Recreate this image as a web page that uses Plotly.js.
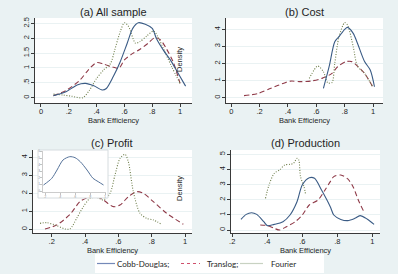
<!DOCTYPE html>
<html>
<head>
<meta charset="utf-8">
<script src="https://cdn.plot.ly/plotly-3.0.1.min.js"></script>
<style>
  html, body { margin: 0; padding: 0; background: #EAF2F3; }
  #chart { width: 398px; height: 274px; }
</style>
</head>
<body>
<div id="chart"></div>
<script>
// ---- Kernel density estimates of bank efficiency ----
// (a) All sample
const allCobbX  = [0.09,0.18,0.26,0.32,0.38,0.44,0.47,0.52,0.57,0.62,0.66,0.70,0.75,0.80,0.83,0.88,0.93,0.98,1.04];
const allCobbY  = [0.07,0.20,0.43,0.48,0.40,0.26,0.31,0.71,1.21,1.83,2.33,2.52,2.47,2.33,1.99,1.60,1.27,0.87,0.39];
const allTransX = [0.09,0.18,0.28,0.34,0.40,0.45,0.51,0.56,0.60,0.66,0.71,0.77,0.82,0.86,0.90,0.95,1.00];
const allTransY = [0.07,0.24,0.59,0.93,1.18,1.13,1.04,0.99,1.27,1.49,1.62,1.83,2.02,1.94,1.66,1.21,0.48];
const allFourX  = [0.09,0.16,0.22,0.30,0.35,0.40,0.45,0.50,0.53,0.57,0.60,0.63,0.68,0.71,0.76,0.81,0.84,0.89,0.94,1.00];
const allFourY  = [0.12,0.09,0.05,0.00,0.26,0.65,0.93,1.15,1.60,2.22,2.52,2.39,1.83,1.88,2.07,2.24,2.05,1.55,1.04,0.48];

// (b) Cost
const costCobbX  = [0.65,0.69,0.73,0.76,0.80,0.82,0.86,0.89,0.94,0.98,1.01];
const costCobbY  = [0.55,1.81,3.27,3.57,4.00,4.11,3.76,3.18,2.11,1.62,0.64];
const costTransX = [0.09,0.19,0.28,0.38,0.42,0.49,0.56,0.64,0.71,0.75,0.81,0.85,0.89,0.94,1.00];
const costTransY = [0.12,0.25,0.55,0.88,0.97,0.94,0.97,1.13,1.42,1.81,2.11,2.11,1.85,1.42,0.60];
const costFourX  = [0.55,0.61,0.65,0.68,0.71,0.73,0.76,0.80,0.82,0.86,0.89,0.94,1.00];
const costFourY  = [1.13,1.85,1.52,0.88,0.88,2.01,3.57,4.39,4.25,2.98,1.85,1.42,0.60];

// (c) Profit (Cobb-Douglas shown in the small inset)
const profCobbX  = [0.18,0.29,0.36,0.44,0.53,0.60,0.67,0.76,0.84,0.91,0.98];
const profCobbY  = [0.91,1.92,3.18,4.70,5.20,5.05,4.44,3.18,1.92,1.41,0.91];
const profTransX = [0.16,0.23,0.31,0.37,0.42,0.47,0.51,0.57,0.61,0.66,0.71,0.75,0.81,0.89,0.99];
const profTransY = [0.02,0.24,0.83,1.54,1.78,1.81,1.63,1.26,1.35,1.81,2.09,2.00,1.54,0.89,0.28];
const profFourX  = [0.13,0.17,0.22,0.28,0.31,0.35,0.39,0.43,0.47,0.51,0.55,0.58,0.61,0.64,0.66,0.69,0.73,0.77,0.81,0.86];
const profFourY  = [0.33,0.37,0.24,0.02,0.02,0.61,1.26,1.72,1.78,1.63,2.00,3.02,3.94,4.17,3.76,2.09,0.89,0.61,0.52,0.28];

// (d) Production
const prodCobbX  = [0.25,0.28,0.31,0.34,0.38,0.40,0.44,0.49,0.53,0.57,0.60,0.64,0.67,0.71,0.76,0.78,0.82,0.86,0.90,0.93,0.97,1.01];
const prodCobbY  = [0.70,1.03,1.14,1.03,0.55,0.29,0.37,0.55,0.99,1.87,2.97,3.45,3.41,2.64,1.54,0.99,0.70,0.62,0.77,0.95,0.73,0.37];
const prodTransX = [0.36,0.40,0.44,0.47,0.51,0.56,0.60,0.64,0.69,0.73,0.76,0.78,0.82,0.86,0.89,0.92,0.95];
const prodTransY = [0.33,0.29,0.11,0.00,0.22,0.55,0.99,1.65,1.98,2.64,3.19,3.52,3.63,3.37,2.86,1.98,1.25];
const prodFourX  = [0.39,0.41,0.44,0.47,0.50,0.53,0.55,0.57,0.58,0.59,0.61,0.62];
const prodFourY  = [2.09,2.97,3.74,3.96,4.29,4.33,4.40,4.73,4.62,3.52,2.86,2.31];

// ---- Tick labels ----
const effTicks    = [0, 0.2, 0.4, 0.6, 0.8, 1];
const effLabels   = ['0', '.2', '.4', '.6', '.8', '1'];
const effTicks2   = [0.2, 0.4, 0.6, 0.8, 1];
const effLabels2  = ['.2', '.4', '.6', '.8', '1'];
const densTicksA  = [0, 0.5, 1, 1.5, 2, 2.5];
const densLabelsA = ['0', '.5', '1', '1.5', '2', '2.5'];
const densTicks4  = [0, 1, 2, 3, 4];
const densLabels4 = ['0', '1', '2', '3', '4'];
const densTicks5  = [0, 1, 2, 3, 4, 5];
const densLabels5 = ['0', '1', '2', '3', '4', '5'];
const insetXTicks = [0.2, 0.4, 0.6, 0.8, 1];
const insetXLabels = ['.2', '.4', '.6', '.8', '1'];
const insetYTicks = [0, 1, 2, 3, 4, 5, 6];
const insetYLabels = ['0', '1', '2', '3', '4', '5', '6'];

const panelTitles = ['(a) All sample', '(b) Cost', '(c) Profit', '(d) Production'];
const seriesNames = ['Cobb-Douglas;', 'Translog;', 'Fourier'];

// ---- Layout geometry (pixels) ----
const W = 398, H = 274;
const fx = v => v / W;
const fy = v => 1 - v / H;

const boxA = { x: [35, 192],  y: [18, 103],  xr: [-0.043, 1.086], yr: [-0.178, 2.678] };
const boxB = { x: [226, 383], y: [18, 103],  xr: [-0.037, 1.070], yr: [-0.31, 4.66] };
const boxC = { x: [33, 192],  y: [150, 233], xr: [0.088, 1.042],  yr: [-0.206, 4.41] };
const boxD = { x: [231, 380], y: [150, 233], xr: [0.193, 1.044],  yr: [-0.198, 5.28] };
const frameBox = { x: [38, 108], y: [150, 198] };
const insetBox = { x: [43, 106], y: [151, 192], xr: [0.173, 1.013], yr: [-0.15, 6.06] };

const axisColor = '#3a3a3a';
const textColor = '#1f1f1f';
const axisFont = { family: 'Liberation Sans, Arial, sans-serif', size: 7.5, color: textColor };
const gridColor = '#EAF2F3';

function xAxis(b, vals, labels, anchor) {
  return {
    domain: [fx(b.x[0]), fx(b.x[1])], range: b.xr, anchor: anchor,
    tickmode: 'array', tickvals: vals, ticktext: labels,
    ticks: 'outside', ticklen: 3, tickwidth: 1, tickcolor: axisColor,
    ticklabelstandoff: -2,
    showline: true, linecolor: axisColor, linewidth: 1,
    showgrid: false, zeroline: false, tickfont: axisFont,
    title: { text: 'Bank Efficiency', font: axisFont, standoff: 1 },
    fixedrange: true
  };
}
function yAxis(b, vals, labels, anchor) {
  return {
    domain: [fy(b.y[1]), fy(b.y[0])], range: b.yr, anchor: anchor,
    tickmode: 'array', tickvals: vals, ticktext: labels, tickangle: -90,
    ticks: 'outside', ticklen: 3, tickwidth: 1, tickcolor: axisColor,
    ticklabelstandoff: -1,
    showline: true, linecolor: axisColor, linewidth: 1,
    showgrid: true, gridcolor: gridColor, gridwidth: 1,
    zeroline: false, tickfont: axisFont, fixedrange: true
  };
}

const cobbStyle  = { color: '#3a5b85', width: 1.1 };
const transStyle = { color: '#8f3a48', width: 1.1, dash: '5px,3px' };
const fourStyle  = { color: '#6f7f4c', width: 1.1, dash: '1px,1.6px' };

function curve(x, y, xa, ya, style, name) {
  return {
    type: 'scatter', mode: 'lines', x: x, y: y, xaxis: xa, yaxis: ya, name: name,
    line: Object.assign({ shape: 'spline', smoothing: 0.8 }, style),
    hoverinfo: 'skip', showlegend: false
  };
}

const data = [
  curve(allTransX, allTransY, 'x', 'y', transStyle, seriesNames[1]),
  curve(allFourX,  allFourY,  'x', 'y', fourStyle,  seriesNames[2]),
  curve(allCobbX,  allCobbY,  'x', 'y', cobbStyle,  seriesNames[0]),

  curve(costTransX, costTransY, 'x2', 'y2', transStyle, seriesNames[1]),
  curve(costFourX,  costFourY,  'x2', 'y2', fourStyle,  seriesNames[2]),
  curve(costCobbX,  costCobbY,  'x2', 'y2', cobbStyle,  seriesNames[0]),

  curve(profTransX, profTransY, 'x3', 'y3', transStyle, seriesNames[1]),
  curve(profFourX,  profFourY,  'x3', 'y3', fourStyle,  seriesNames[2]),

  curve(prodTransX, prodTransY, 'x4', 'y4', transStyle, seriesNames[1]),
  curve(prodFourX,  prodFourY,  'x4', 'y4', fourStyle,  seriesNames[2]),
  curve(prodCobbX,  prodCobbY,  'x4', 'y4', cobbStyle,  seriesNames[0]),

  // empty frame subplot behind the inset
  { type: 'scatter', x: [], y: [], xaxis: 'x5', yaxis: 'y5', showlegend: false, hoverinfo: 'skip' },
  curve(profCobbX, profCobbY, 'x6', 'y6', { color: '#56739a', width: 1 }, seriesNames[0])
];

const insetFont = { family: 'Liberation Sans, Arial, sans-serif', size: 3, color: '#777' };
const hiddenAxis = (dom) => ({
  domain: dom, range: [0, 1], showline: false, showticklabels: false, ticks: '',
  showgrid: false, zeroline: false, fixedrange: true
});

const titleFont = { family: 'Liberation Sans, Arial, sans-serif', size: 11, color: textColor };
const legendFont = { family: 'Lato, sans-serif', size: 8, color: '#262626' };

function title(text, cx, cy) {
  return { text: text, xref: 'paper', yref: 'paper', x: fx(cx), y: fy(cy),
           xanchor: 'center', yanchor: 'middle', showarrow: false, font: titleFont };
}
function densityLabel(cx, cy) {
  return { text: 'Density', xref: 'paper', yref: 'paper', x: fx(cx), y: fy(cy),
           xanchor: 'center', yanchor: 'middle', showarrow: false, textangle: -90, font: axisFont };
}
function legendText(text, left) {
  return { text: text, xref: 'paper', yref: 'paper', x: fx(left), y: fy(263.5),
           xanchor: 'left', yanchor: 'middle', showarrow: false, font: legendFont };
}
function legendLine(x0, x1, color, dash) {
  return { type: 'line', xref: 'paper', yref: 'paper', x0: fx(x0), x1: fx(x1), y0: fy(263.5), y1: fy(263.5),
           line: { color: color, width: 1.2, dash: dash || 'solid' }, layer: 'above' };
}

const layout = {
  width: W, height: H,
  margin: { l: 0, r: 0, t: 0, b: 0, pad: 0 },
  paper_bgcolor: '#EAF2F3',
  plot_bgcolor: '#FFFFFF',
  showlegend: false,
  xaxis:  xAxis(boxA, effTicks, effLabels, 'y'),
  yaxis:  yAxis(boxA, densTicksA, densLabelsA, 'x'),
  xaxis2: xAxis(boxB, effTicks, effLabels, 'y2'),
  yaxis2: yAxis(boxB, densTicks4, densLabels4, 'x2'),
  xaxis3: xAxis(boxC, effTicks2, effLabels2, 'y3'),
  yaxis3: yAxis(boxC, densTicks4, densLabels4, 'x3'),
  xaxis4: xAxis(boxD, effTicks2, effLabels2, 'y4'),
  yaxis4: yAxis(boxD, densTicks5, densLabels5, 'x4'),
  xaxis5: Object.assign(hiddenAxis([fx(frameBox.x[0]), fx(frameBox.x[1])]), { anchor: 'y5' }),
  yaxis5: Object.assign(hiddenAxis([fy(frameBox.y[1]), fy(frameBox.y[0])]), { anchor: 'x5' }),
  xaxis6: {
    domain: [fx(insetBox.x[0]), fx(insetBox.x[1])], range: insetBox.xr, anchor: 'y6',
    tickmode: 'array', tickvals: insetXTicks, ticktext: insetXLabels,
    ticks: 'outside', ticklen: 2, tickwidth: 0.6, tickcolor: '#999',
    showline: true, linecolor: '#aaa', linewidth: 0.6,
    showgrid: false, zeroline: false, tickfont: insetFont, fixedrange: true
  },
  yaxis6: {
    domain: [fy(insetBox.y[1]), fy(insetBox.y[0])], range: insetBox.yr, anchor: 'x6',
    tickmode: 'array', tickvals: insetYTicks, ticktext: insetYLabels,
    ticks: 'outside', ticklen: 2, tickwidth: 0.6, tickcolor: '#999',
    showline: true, linecolor: '#aaa', linewidth: 0.6,
    showgrid: false, zeroline: false, tickfont: insetFont, fixedrange: true
  },
  annotations: [
    title(panelTitles[0], 113.5, 12),
    title(panelTitles[1], 304.5, 12),
    title(panelTitles[2], 112.5, 143),
    title(panelTitles[3], 305, 143),
    densityLabel(180, 60),
    densityLabel(179, 189),
    legendText(seriesNames[0], 115),
    legendText(seriesNames[1], 205),
    legendText(seriesNames[2], 269)
  ],
  shapes: [
    { type: 'rect', xref: 'paper', yref: 'paper',
      x0: fx(frameBox.x[0]), x1: fx(frameBox.x[1]), y0: fy(frameBox.y[1]), y1: fy(frameBox.y[0]),
      line: { color: '#d6dcdf', width: 1 }, fillcolor: 'rgba(0,0,0,0)', layer: 'above' },
    { type: 'rect', xref: 'paper', yref: 'paper', x0: fx(95), x1: fx(324), y0: fy(273), y1: fy(254),
      fillcolor: '#FFFFFF', line: { width: 0 }, layer: 'above' },
    legendLine(97, 115, '#7489b8'),
    legendLine(181, 200, '#d0506c', '3px,3px'),
    legendLine(240, 263, '#c8d2c2')
  ]
};

Plotly.newPlot('chart', data, layout, { staticPlot: true, displayModeBar: false });
</script>
</body>
</html>
